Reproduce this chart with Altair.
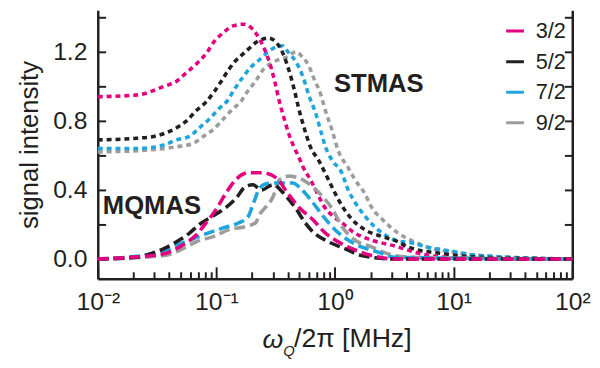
import altair as alt
import pandas as pd

# ---------------- data ----------------
spins = ["3/2", "5/2", "7/2", "9/2"]
colors = ["#e4007f", "#231f20", "#1ea4de", "#9d9d9d"]

# STMAS (dotted)
stmas_32_x = [0.01, 0.0215, 0.0361, 0.0462, 0.056, 0.0678, 0.082, 0.096, 0.114, 0.138, 0.170, 0.214, 0.26, 0.28, 0.31, 0.34, 0.37, 0.41, 0.45, 0.495, 0.54, 0.62, 0.71, 0.80, 0.95, 1.14, 1.47, 2.03, 3.4, 4.65, 8.3, 16.7, 100]
stmas_32_y = [0.94, 0.95, 1.00, 1.03, 1.08, 1.13, 1.19, 1.26, 1.31, 1.35, 1.36, 1.31, 1.20, 1.14, 1.03, 0.91, 0.82, 0.72, 0.65, 0.59, 0.53, 0.46, 0.38, 0.31, 0.25, 0.21, 0.15, 0.11, 0.07, 0.04, 0.01, 0.0, 0.0]

stmas_52_x = [0.01, 0.0215, 0.0296, 0.0462, 0.056, 0.0678, 0.082, 0.096, 0.110, 0.128, 0.146, 0.176, 0.222, 0.275, 0.34, 0.41, 0.45, 0.495, 0.56, 0.62, 0.73, 0.865, 0.97, 1.14, 1.39, 1.78, 2.5, 3.4, 4.1, 8.3, 16.7, 100]
stmas_52_y = [0.69, 0.70, 0.71, 0.76, 0.80, 0.86, 0.91, 0.97, 1.03, 1.10, 1.15, 1.20, 1.26, 1.28, 1.23, 1.09, 0.99, 0.87, 0.74, 0.65, 0.57, 0.47, 0.40, 0.31, 0.23, 0.17, 0.13, 0.10, 0.07, 0.03, 0.01, 0.0]

stmas_72_x = [0.01, 0.0215, 0.0361, 0.0462, 0.0593, 0.0718, 0.087, 0.105, 0.125, 0.141, 0.166, 0.195, 0.236, 0.285, 0.36, 0.40, 0.47, 0.54, 0.60, 0.69, 0.76, 0.83, 0.95, 1.14, 1.29, 1.47, 1.78, 2.3, 3.2, 4.65, 5.9, 8.8, 16.7, 100]
stmas_72_y = [0.64, 0.64, 0.66, 0.69, 0.71, 0.76, 0.81, 0.87, 0.92, 0.98, 1.05, 1.11, 1.16, 1.21, 1.235, 1.20, 1.14, 1.05, 0.95, 0.84, 0.74, 0.65, 0.57, 0.50, 0.40, 0.33, 0.25, 0.17, 0.11, 0.09, 0.07, 0.05, 0.02, 0.0]

stmas_92_x = [0.01, 0.025, 0.0462, 0.064, 0.0775, 0.094, 0.114, 0.138, 0.160, 0.183, 0.214, 0.25, 0.30, 0.39, 0.47, 0.53, 0.60, 0.66, 0.76, 0.83, 0.95, 1.06, 1.29, 1.47, 1.78, 2.03, 2.5, 3.4, 4.65, 5.9, 10, 16.7, 100]
stmas_92_y = [0.62, 0.63, 0.65, 0.67, 0.71, 0.75, 0.81, 0.87, 0.91, 0.97, 1.03, 1.10, 1.14, 1.17, 1.20, 1.17, 1.12, 1.05, 0.95, 0.86, 0.74, 0.63, 0.53, 0.46, 0.38, 0.30, 0.23, 0.15, 0.10, 0.07, 0.04, 0.02, 0.0]

# MQMAS (dashed)
mqmas_32_x = [0.01, 0.0193, 0.0361, 0.049, 0.0678, 0.082, 0.1, 0.12, 0.146, 0.186, 0.24, 0.32, 0.40, 0.495, 0.645, 0.83, 1.06, 1.39, 2.03, 3.2, 100]
mqmas_32_y = [0.0, 0.01, 0.03, 0.07, 0.14, 0.21, 0.29, 0.38, 0.46, 0.50, 0.50, 0.47, 0.38, 0.30, 0.23, 0.15, 0.10, 0.06, 0.02, 0.0, 0.0]

mqmas_52_x = [0.01, 0.0215, 0.0276, 0.0361, 0.0462, 0.0593, 0.0718, 0.094, 0.116, 0.146, 0.176, 0.203, 0.24, 0.30, 0.39, 0.47, 0.56, 0.645, 0.88, 1.21, 1.67, 3.2, 100]
mqmas_52_y = [0.0, 0.01, 0.03, 0.06, 0.10, 0.15, 0.20, 0.25, 0.29, 0.35, 0.42, 0.43, 0.40, 0.43, 0.36, 0.29, 0.21, 0.16, 0.10, 0.06, 0.02, 0.0, 0.0]

mqmas_72_x = [0.01, 0.0361, 0.0436, 0.0593, 0.0775, 0.114, 0.155, 0.183, 0.207, 0.227, 0.25, 0.30, 0.44, 0.51, 0.645, 0.79, 1.0, 1.29, 1.67, 2.3, 3.2, 100]
mqmas_72_y = [0.0, 0.04, 0.07, 0.11, 0.14, 0.18, 0.21, 0.24, 0.33, 0.40, 0.43, 0.44, 0.44, 0.41, 0.33, 0.25, 0.17, 0.11, 0.07, 0.04, 0.01, 0.0]

mqmas_92_x = [0.01, 0.0361, 0.049, 0.0678, 0.094, 0.128, 0.18, 0.214, 0.232, 0.26, 0.30, 0.34, 0.41, 0.53, 0.645, 0.79, 0.95, 1.14, 1.47, 2.03, 2.8, 4.4, 100]
mqmas_92_y = [0.0, 0.02, 0.05, 0.10, 0.13, 0.17, 0.19, 0.21, 0.26, 0.30, 0.36, 0.46, 0.48, 0.46, 0.42, 0.36, 0.29, 0.19, 0.11, 0.07, 0.03, 0.01, 0.0]

# annotations
annot_text = ["STMAS", "MQMAS"]
annot_x = [2.34, 0.0286]
annot_y = [1.011, 0.309]

# axes
x_major = [0.01, 0.1, 1, 10, 100]
x_tick_labels = ["10⁻²", "10⁻¹", "10⁰", "10¹", "10²"]
x_minor = [m * d for d in [0.01, 0.1, 1, 10] for m in range(2, 10)]
y_labeled = [0.0, 0.4, 0.8, 1.2]
y_all = [0.0, 0.2, 0.4, 0.6, 0.8, 1.0, 1.2, 1.4]


def frame(method, pairs):
    parts = []
    for spin, (xs, ys) in zip(spins, pairs):
        parts.append(pd.DataFrame({"x": xs, "y": ys, "spin": spin, "method": method}))
    # draw magenta last (on top)
    return pd.concat(parts[::-1], ignore_index=True)


stmas = frame("STMAS", [(stmas_32_x, stmas_32_y), (stmas_52_x, stmas_52_y),
                        (stmas_72_x, stmas_72_y), (stmas_92_x, stmas_92_y)])
mqmas = frame("MQMAS", [(mqmas_32_x, mqmas_32_y), (mqmas_52_x, mqmas_52_y),
                        (mqmas_72_x, mqmas_72_y), (mqmas_92_x, mqmas_92_y)])
both = pd.concat([stmas, mqmas], ignore_index=True)
both["key"] = both["method"] + both["spin"]

# ---------------- styling ----------------
FONT = "Liberation Sans"
INK = "#231f20"
W, H = 481, 272

x_scale = alt.Scale(type="log", domain=[0.01, 100], nice=False)
y_scale = alt.Scale(domain=[-0.114, 1.44], nice=False, zero=False)
color_scale = alt.Scale(domain=spins, range=colors)

bounds = [0.0316, 0.316, 3.16, 31.6]
label_expr = f"'{x_tick_labels[-1]}'"
for b, lab in reversed(list(zip(bounds, x_tick_labels[:-1]))):
    label_expr = f"datum.value < {b} ? '{lab}' : ({label_expr})"

major_test = "abs(log(datum.value)/LN10 - round(log(datum.value)/LN10)) < 0.01"

legend = alt.Legend(
    orient="none", legendX=412, legendY=10, title=None,
    symbolType="stroke", symbolSize=324, symbolStrokeWidth=3, symbolDash=[1, 0],
    labelFont=FONT, labelFontSize=22, labelColor=INK, labelOffset=10,
    rowPadding=9,
)

stmas_layer = alt.Chart(stmas).mark_line(
    strokeDash=[5, 4], strokeWidth=3.6, interpolate="monotone"
).encode(
    x=alt.X("x:Q", scale=x_scale, axis=alt.Axis(
        orient="bottom", values=x_major, labelExpr=label_expr, ticks=False,
        domain=True, domainColor=INK, domainWidth=2.5,
        labelFont=FONT, labelFontSize=25, labelColor=INK, labelPadding=11,
        labelFlush=False, title=None, grid=False)),
    y=alt.Y("y:Q", scale=y_scale, axis=alt.Axis(
        orient="left", values=y_labeled, format=".1f", ticks=False,
        domain=True, domainColor=INK, domainWidth=2.5,
        labelFont=FONT, labelFontSize=25, labelColor=INK, labelPadding=11,
        title="signal intensity", titleFont=FONT, titleFontSize=26,
        titleFontWeight="normal", titleColor=INK, titlePadding=10, grid=False)),
    color=alt.Color("spin:N", scale=color_scale, legend=legend),
)

mqmas_layer = alt.Chart(mqmas).mark_line(
    strokeDash=[11, 5], strokeWidth=3.6, interpolate="monotone"
).encode(
    x=alt.X("x:Q", scale=x_scale, axis=alt.Axis(
        orient="top", offset=-H, values=x_major + x_minor, labels=False,
        domain=False, ticks=True, tickColor=INK, tickWidth=2,
        tickSize={"condition": {"test": major_test, "value": 12}, "value": 7},
        title=None, grid=False)),
    y=alt.Y("y:Q", scale=y_scale, axis=alt.Axis(
        orient="right", offset=-W, values=y_all, labels=False, domain=False,
        ticks=True, tickColor=INK, tickWidth=2, tickSize=8, title=None, grid=False)),
    color=alt.Color("spin:N", scale=color_scale, legend=legend),
)

right_layer = alt.Chart(both).mark_line(opacity=0).encode(
    x=alt.X("x:Q", scale=x_scale, axis=None),
    y=alt.Y("y:Q", scale=y_scale, axis=alt.Axis(
        orient="left", offset=-W, values=y_all, labels=False,
        domain=True, domainColor=INK, domainWidth=2.5,
        ticks=True, tickColor=INK, tickWidth=2, tickSize=8, title=None, grid=False)),
    detail="key:N",
)

annot = alt.Chart(pd.DataFrame({"t": annot_text, "x": annot_x, "y": annot_y})).mark_text(
    font=FONT, fontSize=26, fontWeight="bold", color=INK, align="center", baseline="middle"
).encode(
    x=alt.X("x:Q", scale=x_scale, axis=None),
    y=alt.Y("y:Q", scale=y_scale, axis=None),
    text="t:N",
)

xt1 = alt.Chart(pd.DataFrame({"t": ["ω"]})).mark_text(
    font=FONT, fontSize=27, fontStyle="italic", color=INK, align="left", baseline="alphabetic"
).encode(text="t:N", x=alt.value(167), y=alt.value(342))
xt2 = alt.Chart(pd.DataFrame({"t": ["Q"]})).mark_text(
    font=FONT, fontSize=15, fontStyle="italic", color=INK, align="left", baseline="alphabetic"
).encode(text="t:N", x=alt.value(188), y=alt.value(350))
xt3 = alt.Chart(pd.DataFrame({"t": ["/2π [MHz]"]})).mark_text(
    font=FONT, fontSize=27, color=INK, align="left", baseline="alphabetic"
).encode(text="t:N", x=alt.value(199), y=alt.value(341))

chart = alt.layer(
    stmas_layer, mqmas_layer, right_layer, annot, xt1, xt2, xt3
).resolve_scale(
    x="shared", y="shared", color="shared"
).resolve_axis(
    x="independent", y="independent"
).properties(
    width=W, height=H,
    autosize=alt.AutoSizeParams(type="none"),
    padding={"left": 91, "top": 0, "right": 20, "bottom": 80},
).configure_view(stroke=None).configure_axis(grid=False)

chart.save("out.html", embed_options={"renderer": "svg", "actions": False})
